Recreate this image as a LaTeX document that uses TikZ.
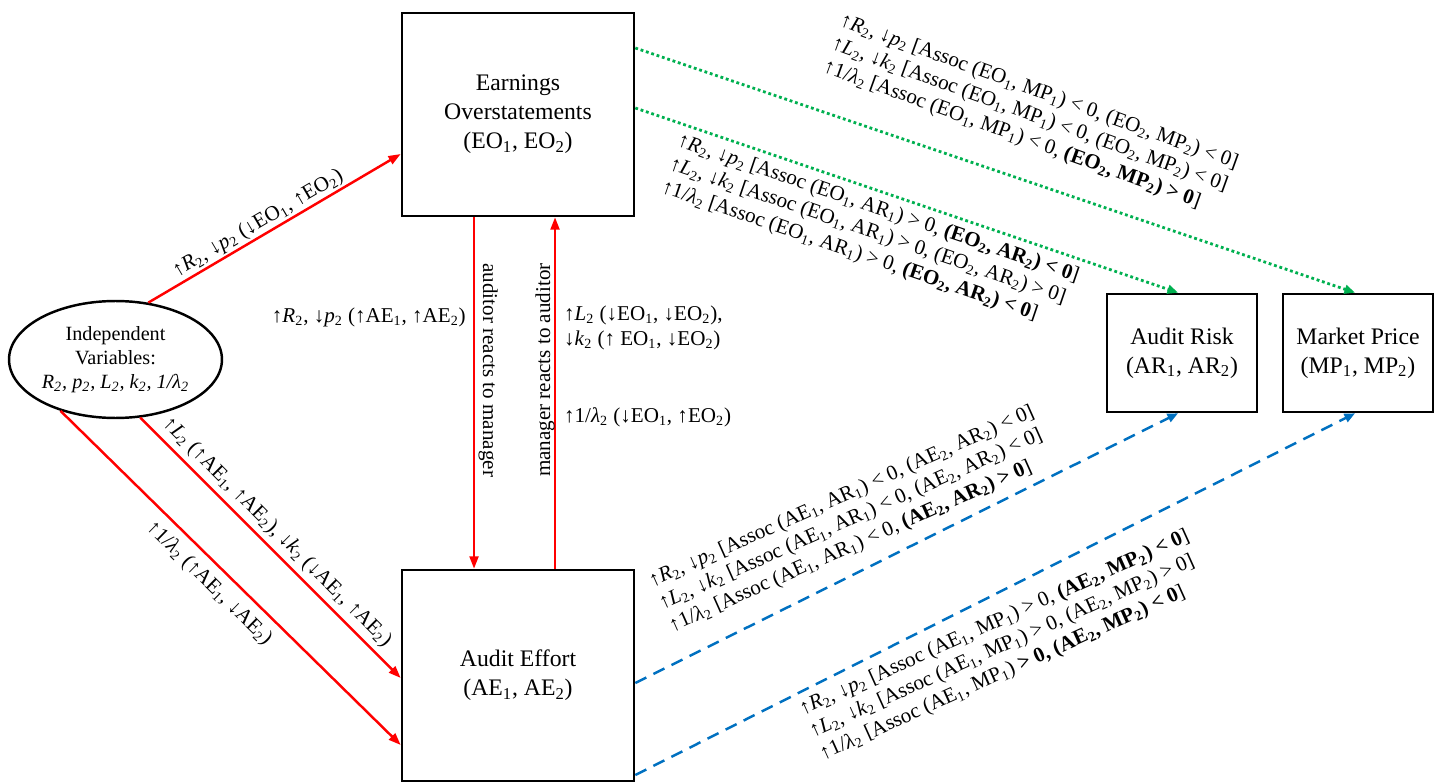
\documentclass[tikz,border=0pt]{standalone}
\usepackage{fontspec}
\setmainfont{Liberation Serif}
\usetikzlibrary{calc}
\usetikzlibrary{positioning}
\usetikzlibrary{arrows.meta}
\usetikzlibrary{shapes.geometric}

\definecolor{linkred}{RGB}{255,0,0}
\definecolor{linkgreen}{RGB}{0,176,80}
\definecolor{linkblue}{RGB}{0,112,192}

\newcommand{\ua}{↑}
\newcommand{\da}{↓}
\newcommand{\lo}[1]{\textsubscript{#1}}
\newcommand{\vv}[1]{\textit{#1}\lo{2}}
\newcommand{\lam}{\textit{λ}\lo{2}}

\tikzset{every node/.style={align=center, inner sep=0pt},
  varbox/.style={ % boxes for the quantities of the model
    draw, line width=1.5pt, inner sep=3pt,
    font=\fontsize{13.5}{16.5}\selectfont},
  lbl/.style={font=\fontsize{12}{14}\selectfont},
  redarrow/.style={draw=linkred, line width=1.4pt,
    -{Triangle[length=7pt,width=5pt]}},
  greenarrow/.style={draw=linkgreen, line width=1.6pt,
    dash pattern=on 1.6pt off 1.6pt, -{Triangle[length=6pt,width=5pt]}},
  bluearrow/.style={draw=linkblue, line width=1.4pt,
    dash pattern=on 7pt off 4.5pt, -{Triangle[length=6pt,width=5pt]}}}

\begin{document}
\begin{tikzpicture}[x=0.02cm, y=-0.02cm]
  \useasboundingbox (0,0) rectangle (1439,783);

  \node [varbox, minimum width=4.64cm, minimum height=4.06cm] (eo) at (518,114.5)
    {Earnings\\Overstatements\\(EO\lo1, EO\lo2)};
  \node [varbox, minimum width=4.64cm, minimum height=4.22cm] (ae) at (518,675.5)
    {Audit Effort\\(AE\lo1, AE\lo2)};
  \node [varbox, minimum width=3cm, minimum height=2.36cm] (ar) at (1182,353)
    {Audit Risk\\(AR\lo1, AR\lo2)};
  \node [varbox, minimum width=3cm, minimum height=2.36cm] (mp) at (1358,353)
    {Market Price\\(MP\lo1, MP\lo2)};
  \node [ellipse, draw, line width=1.4pt, minimum width=4.26cm, minimum height=2.34cm,
    font=\fontsize{11.5}{13.6}\selectfont] (iv) at (115.5,359.5)
    {Independent\\Variables:\\\textit{R\lo2, p\lo2, L\lo2, k\lo2, 1/λ\lo2}};

  % independent variables
  \draw (iv.60) edge [redarrow] node [lbl, sloped, pos=0.46, yshift=7pt]
    {\ua\vv{R}, \da\vv{p} (\da EO\lo1, \ua EO\lo2)} ($(eo.west)+(0,39.5)$);
  \draw (iv.293) edge [redarrow] node [lbl, sloped, pos=0.483, yshift=8.8pt]
    {\ua\vv{L} (\ua AE\lo1, \ua AE\lo2), \da\vv{k} (\da AE\lo1, \ua AE\lo2)} ($(ae.west)+(0,2.5)$);
  \draw (iv.223) edge [redarrow] node [lbl, sloped, pos=0.476, yshift=-10.8pt]
    {\ua1/\lam{} (\ua AE\lo1, \da AE\lo2)} ($(ae.west)+(0,69.5)$);

  % auditor <-> manager
  \draw ($(eo.south)+(-44,0)$) edge [redarrow]
    node [lbl, sloped, pos=0.435, yshift=8pt] {auditor reacts to manager}
    node [lbl, pos=0.285, left=4pt] {\ua\vv{R}, \da\vv{p} (\ua AE\lo1, \ua AE\lo2)}
    ($(ae.north)+(-44,0)$);
  \draw ($(ae.north)+(37,0)$) edge [redarrow]
    node [lbl, sloped, pos=0.565, yshift=5.7pt] {manager reacts to auditor}
    node [lbl, pos=0.686, right=4.5pt, align=left]
      {\ua\vv{L} (\da EO\lo1, \da EO\lo2),\\\da\vv{k} (\ua{} EO\lo1, \da EO\lo2)}
    node [lbl, pos=0.432, right=4.5pt] {\ua1/\lam{} (\da EO\lo1, \ua EO\lo2)}
    ($(eo.south)+(37,0)$);

  % earnings overstatements -> market price, audit risk
  \draw ($(eo.east)+(0,-66.5)$) edge [greenarrow]
    node [lbl, sloped, pos=0.521, yshift=36pt, rotate=-1.1, align=left] {
      \ua\vv{R}, \da\vv{p} [Assoc (EO\lo1, MP\lo1) < 0, (EO\lo2, MP\lo2) < 0]\\
      \ua\vv{L}, \da\vv{k} [Assoc (EO\lo1, MP\lo1) < 0, (EO\lo2, MP\lo2) < 0]\\
      \ua1/\lam{} [Assoc (EO\lo1, MP\lo1) < 0, \textbf{(EO\lo2, MP\lo2) > 0}]
    } ($(mp.north)+(-3,0)$);
  \draw ($(eo.east)+(0,-6.5)$) edge [greenarrow]
    node [lbl, sloped, pos=0.458, yshift=-24pt, align=left] {
      \ua\vv{R}, \da\vv{p} [Assoc (EO\lo1, AR\lo1) > 0, \textbf{(EO\lo2, AR\lo2) < 0}]\\
      \ua\vv{L}, \da\vv{k} [Assoc (EO\lo1, AR\lo1) > 0, (EO\lo2, AR\lo2) > 0]\\
      \ua1/\lam{} [Assoc (EO\lo1, AR\lo1) > 0, \textbf{(EO\lo2, AR\lo2) < 0}]
    } ($(ar.north)+(-4,0)$);

  % audit effort -> audit risk, market price
  \draw ($(ae.east)+(0,7.5)$) edge [bluearrow]
    node [lbl, sloped, pos=0.44, yshift=28.4pt, rotate=-2.4, align=left] {
      \ua\vv{R}, \da\vv{p} [Assoc (AE\lo1, AR\lo1) < 0, (AE\lo2, AR\lo2) < 0]\\
      \ua\vv{L}, \da\vv{k} [Assoc (AE\lo1, AR\lo1) < 0, (AE\lo2, AR\lo2) < 0]\\
      \ua1/\lam{} [Assoc (AE\lo1, AR\lo1) < 0, \textbf{(AE\lo2, AR\lo2) > 0}]
    } ($(ar.south)+(-4,0)$);
  \draw ($(ae.east)+(0,99.5)$) edge [bluearrow]
    node [lbl, sloped, pos=0.482, yshift=-28.7pt, rotate=-2.4, align=left] {
      \ua\vv{R}, \da\vv{p} [Assoc (AE\lo1, MP\lo1) > 0, \textbf{(AE\lo2, MP\lo2) < 0}]\\
      \ua\vv{L}, \da\vv{k} [Assoc (AE\lo1, MP\lo1) > 0, (AE\lo2, MP\lo2) > 0]\\
      \ua1/\lam{} [Assoc (AE\lo1, MP\lo1) \textbf{> 0, (AE\lo2, MP\lo2) < 0}]
    } ($(mp.south)+(-3,0)$);
\end{tikzpicture}
\end{document}
